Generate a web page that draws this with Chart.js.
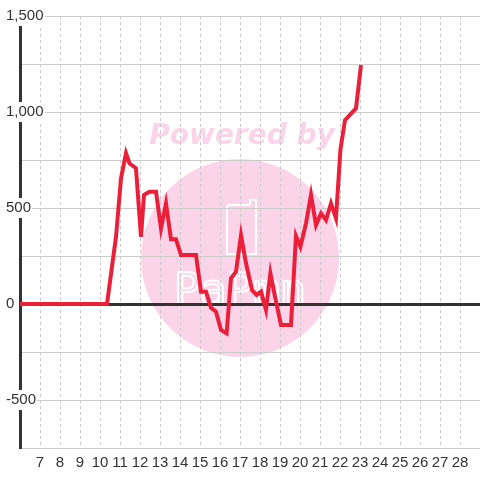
<!DOCTYPE html>
<html>
<head>
<meta charset="utf-8">
<script src="https://cdn.jsdelivr.net/npm/chart.js@4/dist/chart.umd.min.js"></script>
<style>
html,body{margin:0;padding:0;background:#fff;}
#wrap{width:480px;height:480px;position:relative;}
</style>
</head>
<body>
<div id="wrap"><canvas id="c"></canvas></div>
<script>
// ---- data ----
const times  = [6, 10.35, 10.8, 11.05, 11.3, 11.47, 11.8, 12.05, 12.2, 12.47, 12.8, 13.05, 13.3, 13.55, 13.8, 14.05, 14.8, 15.05, 15.3, 15.55, 15.8, 16.05, 16.33, 16.55, 16.8, 17.05, 17.3, 17.6, 17.83, 18.05, 18.3, 18.52, 18.75, 19.05, 19.55, 19.8, 20.02, 20.3, 20.55, 20.8, 21.05, 21.3, 21.55, 21.8, 22.02, 22.25, 22.8, 23.05];
const values = [0, 0, 350, 655, 785, 733, 707, 350, 568, 585, 585, 394, 524, 337, 337, 255, 255, 64, 64, -20, -40, -135, -153, 134, 168, 359, 212, 73, 47, 64, -31, 160, 38, -109, -109, 354, 298, 420, 568, 411, 472, 437, 524, 446, 802, 958, 1019, 1245];
const xTickValues = [7, 8, 9, 10, 11, 12, 13, 14, 15, 16, 17, 18, 19, 20, 21, 22, 23, 24, 25, 26, 27, 28];
const yTickValues = [-750, -500, -250, 0, 250, 500, 750, 1000, 1250, 1500];
const yLabelValues = [-500, 0, 500, 1000, 1500];

const points = times.map((t, i) => ({x: t, y: values[i]}));

const watermark = {
  id: 'watermark',
  beforeDraw(chart) {
    const ctx = chart.ctx;
    ctx.save();
    ctx.fillStyle = '#fcd4ea';
    ctx.beginPath();
    ctx.arc(240, 258, 99, 0, Math.PI * 2);
    ctx.fill();
    ctx.font = 'italic bold 28px "DejaVu Sans"';
    ctx.textAlign = 'center';
    ctx.textBaseline = 'alphabetic';
    ctx.fillText('Powered by', 242, 144);
    ctx.strokeStyle = '#ffffff';
    ctx.lineWidth = 2;
    ctx.beginPath();
    ctx.moveTo(229, 205);
    ctx.lineTo(250, 205);
    ctx.lineTo(250, 200);
    ctx.lineTo(256, 200);
    ctx.lineTo(256, 254);
    ctx.lineTo(227, 254);
    ctx.lineTo(227, 207);
    ctx.closePath();
    ctx.stroke();
    ctx.font = '44px "DejaVu Sans Mono"';
    ctx.lineWidth = 2;
    ctx.strokeText('PaPmn', 240, 305);
    ctx.restore();
  }
};

new Chart(document.getElementById('c'), {
  type: 'line',
  data: {
    datasets: [{
      data: points,
      borderColor: '#ec1f3a',
      borderWidth: 4,
      pointRadius: 0,
      tension: 0,
      fill: false
    }]
  },
  options: {
    responsive: true,
    maintainAspectRatio: false,
    animation: false,
    layout: {padding: {top: 16, left: 20, right: 0, bottom: 0}},
    plugins: {legend: {display: false}, tooltip: {enabled: false}},
    scales: {
      x: {
        type: 'linear',
        min: 6,
        max: 29,
        afterBuildTicks: (s) => { s.ticks = xTickValues.map(v => ({value: v})); },
        afterFit: (s) => { s.height = 32; },
        border: {display: false, dash: [3, 3]},
        grid: {color: '#c8c8c8', lineWidth: 1, drawTicks: false},
        ticks: {
          autoSkip: false,
          maxRotation: 0,
          padding: 6,
          color: '#333333',
          font: {family: 'Liberation Sans, Arial', size: 15}
        }
      },
      y: {
        type: 'linear',
        min: -750,
        max: 1500,
        afterBuildTicks: (s) => { s.ticks = yTickValues.map(v => ({value: v})); },
        afterFit: (s) => { s.width = 0; },
        border: {display: true, color: '#333333', width: 3},
        grid: {
          drawTicks: false,
          color: (c) => (c.tick && c.tick.value === 0) ? '#333333' : '#cccccc',
          lineWidth: (c) => (c.tick && c.tick.value === 0) ? 3 : 1
        },
        ticks: {
          mirror: true,
          padding: -14,
          color: '#333333',
          font: {family: 'Liberation Sans, Arial', size: 15},
          showLabelBackdrop: true,
          backdropColor: '#ffffff',
          backdropPadding: {left: 1, right: 1, top: 1, bottom: 1},
          callback: (v) => yLabelValues.includes(v) ? v.toLocaleString('en-US') : ''
        }
      }
    }
  },
  plugins: [watermark]
});
</script>
</body>
</html>
